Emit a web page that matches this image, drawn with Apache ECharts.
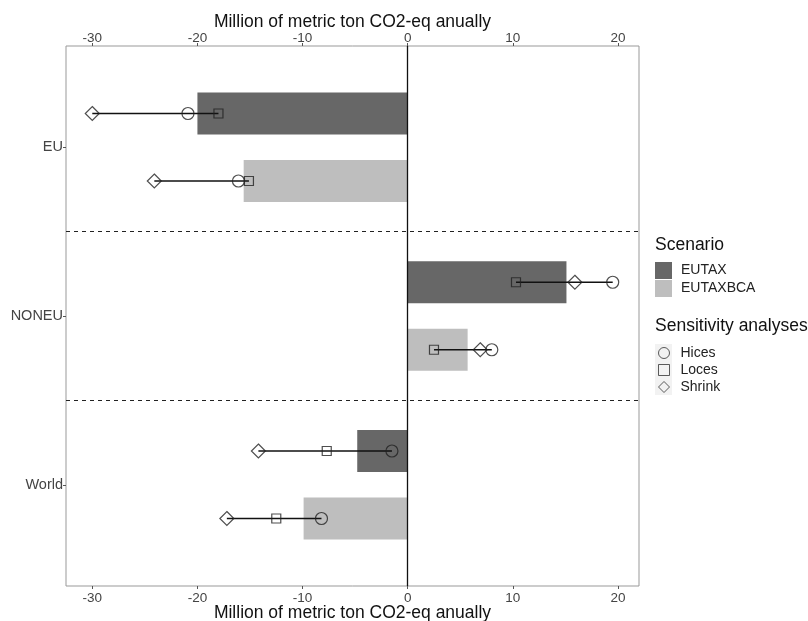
<!DOCTYPE html>
<html>
<head>
<meta charset="utf-8">
<script src="https://cdn.jsdelivr.net/npm/echarts@6/dist/echarts.min.js"></script>
<style>
  html, body { margin: 0; padding: 0; background: #fff; }
  #chart { width: 808px; height: 621px; }
</style>
</head>
<body>
<div id="chart"></div>
<script>
// categories (top to bottom) and axis ticks
var categories = ['EU', 'NONEU', 'World'];
var tickValues = [-30, -20, -10, 0, 10, 20];

// bar values, million t CO2-eq
var eutaxBar = [-20.0, 15.1, -4.8];
var eutaxbcaBar = [-15.6, 5.7, -9.9];

// sensitivity analyses
var hicesEutax = [-20.9, 19.5, -1.5];
var hicesEutaxbca = [-16.1, 8.0, -8.2];
var locesEutax = [-18.0, 10.3, -7.7];
var locesEutaxbca = [-15.1, 2.5, -12.5];
var shrinkEutax = [-30.0, 15.9, -14.2];
var shrinkEutaxbca = [-24.1, 6.9, -17.2];

// dodge layout
var dodge = 0.2, halfBar = 0.125;
var axisTitle = 'Million of metric ton CO2-eq anually';
var font = 'Liberation Sans, Arial, sans-serif';

function barData(vals) {
    var out = [];
    for (var i = 0; i < vals.length; i++) out.push([vals[i], i + 1]);
    return out;
}
function barRender(offset) {
    return function (params, api) {
        var v = api.value(0), c = api.value(1);
        var p0 = api.coord([0, c + offset - halfBar]);
        var p1 = api.coord([v, c + offset + halfBar]);
        return {
            type: 'rect',
            shape: {
                x: Math.min(p0[0], p1[0]), y: Math.min(p0[1], p1[1]),
                width: Math.abs(p1[0] - p0[0]), height: Math.abs(p1[1] - p0[1])
            },
            style: { fill: api.visual('color') }
        };
    };
}
function pointData(a, b) {
    var out = [];
    for (var i = 0; i < categories.length; i++) {
        out.push([a[i], i + 1 - dodge]);
        out.push([b[i], i + 1 + dodge]);
    }
    return out;
}
var rangeData = [];
for (var i = 0; i < categories.length; i++) {
    var r1 = [hicesEutax[i], locesEutax[i], shrinkEutax[i]];
    var r2 = [hicesEutaxbca[i], locesEutaxbca[i], shrinkEutaxbca[i]];
    rangeData.push([Math.min.apply(null, r1), Math.max.apply(null, r1), i + 1 - dodge]);
    rangeData.push([Math.min.apply(null, r2), Math.max.apply(null, r2), i + 1 + dodge]);
}

var pointStyle = { color: 'rgba(0,0,0,0)', borderColor: '#222', borderWidth: 1.2 };

var chart = echarts.init(document.getElementById('chart'));
var xBase = {
    type: 'value', min: -32.5, max: 22,
    name: axisTitle, nameLocation: 'middle', nameMoveOverlap: false,
    nameTextStyle: { color: '#111', fontSize: 17.5, fontFamily: font },
    axisLine: { show: false, onZero: false },
    axisTick: { show: true, customValues: tickValues, length: 3, lineStyle: { color: '#555' } },
    axisLabel: { customValues: tickValues, color: '#444', fontSize: 13.5, fontFamily: font, margin: 3 },
    splitLine: { show: false }
};
var option = {
    backgroundColor: '#fff',
    animation: false,
    grid: {
        left: 66, right: 169, top: 46, bottom: 35, show: true,
        borderColor: '#999', borderWidth: 1, containLabel: false, outerBoundsMode: 'none'
    },
    xAxis: [
        Object.assign({}, xBase, {
            position: 'bottom', nameGap: 18,
            axisLabel: Object.assign({}, xBase.axisLabel, { margin: 5 })
        }),
        Object.assign({}, xBase, {
            position: 'top', nameGap: 15,
            axisLabel: Object.assign({}, xBase.axisLabel, { margin: 1 })
        })
    ],
    yAxis: {
        type: 'value', inverse: true, min: 0.4, max: 3.6,
        axisLine: { show: false, onZero: false },
        axisTick: { show: true, customValues: [1, 2, 3], length: 3, lineStyle: { color: '#555' } },
        axisLabel: {
            customValues: [1, 2, 3], color: '#444', fontSize: 14.5, fontFamily: font, margin: 3,
            formatter: function (v) { return categories[Math.round(v) - 1]; }
        },
        splitLine: { show: false }
    },
    legend: [
        {
            data: [{ name: 'EUTAX', icon: 'rect' }, { name: 'EUTAXBCA', icon: 'rect' }],
            orient: 'vertical', left: 655, top: 262, padding: 0,
            itemWidth: 17, itemHeight: 17, itemGap: 1,
            textStyle: { color: '#222', fontSize: 14, fontFamily: font, padding: [0, 0, 0, 4] }
        },
        {
            data: [{ name: 'Hices', icon: 'circle' }, { name: 'Loces', icon: 'rect' }, { name: 'Shrink', icon: 'diamond' }],
            orient: 'vertical', left: 658, top: 345, padding: 0,
            itemWidth: 11, itemHeight: 11, itemGap: 1,
            itemStyle: { color: 'rgba(0,0,0,0)', borderColor: '#333', borderWidth: 1 },
            textStyle: { color: '#222', fontSize: 14, fontFamily: font, lineHeight: 16, padding: [0, 0, 0, 6] }
        }
    ],
    graphic: [
        { type: 'text', left: 655, top: 236, style: { text: 'Scenario', font: '17.5px ' + font, fill: '#111' } },
        { type: 'text', left: 655, top: 317, style: { text: 'Sensitivity analyses', font: '17.5px ' + font, fill: '#111' } },
        { type: 'rect', left: 655, top: 344, z: -1, shape: { width: 17, height: 51 }, style: { fill: '#f2f2f2' } }
    ],
    series: [
        {
            name: 'EUTAX', type: 'custom', renderItem: barRender(-dodge),
            itemStyle: { color: '#676767' }, encode: { x: 0, y: 1 },
            data: barData(eutaxBar), z: 1
        },
        {
            name: 'EUTAXBCA', type: 'custom', renderItem: barRender(dodge),
            itemStyle: { color: '#bebebe' }, encode: { x: 0, y: 1 },
            data: barData(eutaxbcaBar), z: 1
        },
        {
            name: 'range', type: 'custom', z: 3,
            encode: { x: [0, 1], y: 2 },
            renderItem: function (params, api) {
                var a = api.coord([api.value(0), api.value(2)]);
                var b = api.coord([api.value(1), api.value(2)]);
                return { type: 'line', shape: { x1: a[0], y1: a[1], x2: b[0], y2: b[1] }, style: { stroke: '#111', lineWidth: 1.3 } };
            },
            data: rangeData,
            markLine: {
                silent: true, symbol: 'none', label: { show: false },
                data: [
                    { yAxis: 1.5, lineStyle: { type: [4, 4], color: '#222', width: 1 } },
                    { yAxis: 2.5, lineStyle: { type: [4, 4], color: '#222', width: 1 } },
                    { xAxis: 0, lineStyle: { type: 'solid', color: '#111', width: 1.3 } }
                ]
            }
        },
        { name: 'Hices', type: 'scatter', symbol: 'circle', symbolSize: 12, z: 4, itemStyle: pointStyle, data: pointData(hicesEutax, hicesEutaxbca) },
        { name: 'Loces', type: 'scatter', symbol: 'rect', symbolSize: 9, z: 4, itemStyle: pointStyle, data: pointData(locesEutax, locesEutaxbca) },
        { name: 'Shrink', type: 'scatter', symbol: 'diamond', symbolSize: 14, z: 4, itemStyle: pointStyle, data: pointData(shrinkEutax, shrinkEutaxbca) }
    ]
};
chart.setOption(option);
</script>
</body>
</html>
